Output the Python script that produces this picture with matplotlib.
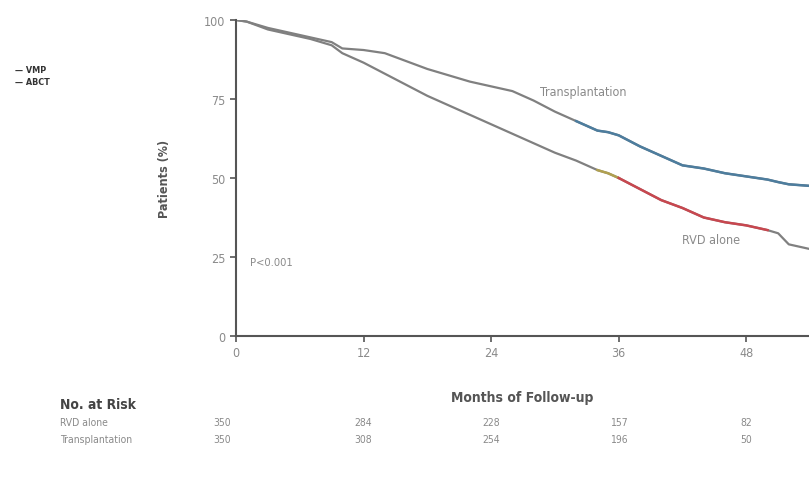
import numpy as np
import matplotlib.pyplot as plt

# Kaplan-Meier style survival curves (percent of patients) by month
months = np.array([0, 1, 3, 5, 7, 9, 10, 12, 14, 16, 18, 20, 22, 24, 26, 28,
                   30, 32, 34, 35, 36, 38, 40, 42, 44, 46, 48, 50, 51, 52, 54])
transplant = np.array([100, 99.5, 97.5, 96, 94.5, 93, 91, 90.5, 89.5, 87, 84.5,
                       82.5, 80.5, 79, 77.5, 74.5, 71, 68, 65, 64.5, 63.5, 60,
                       57, 54, 53, 51.5, 50.5, 49.5, 48.7, 48, 47.5])
rvd_alone = np.array([100, 99.5, 97, 95.5, 94, 92, 89.5, 86.5, 83, 79.5, 76,
                      73, 70, 67, 64, 61, 58, 55.5, 52.5, 51.5, 50, 46.5, 43,
                      40.5, 37.5, 36, 35, 33.5, 32.5, 29, 27.5])

# number at risk table
risk_months = [0, 12, 24, 36, 48]
risk_rvd = [350, 284, 228, 157, 82]
risk_tx = [350, 308, 254, 196, 50]
row_labels = ["RVD alone", "Transplantation"]

plt.rcParams['font.family'] = ['DejaVu Sans']
plt.rcParams['font.stretch'] = 'condensed'

fig = plt.figure(figsize=(8.09, 4.85), dpi=100)
ax = fig.add_axes([0.2917, 0.3052, 0.7083, 0.6515])

gray = '#808080'
# base curves in gray
ax.plot(months, transplant, color=gray, lw=1.6)
ax.plot(months, rvd_alone, color=gray, lw=1.6)

# later part of each curve highlighted
m_tx = months >= 32
ax.plot(months[m_tx], transplant[m_tx], color='#4d7d9e', lw=1.8)
m_olive = (months >= 34) & (months <= 36)
ax.plot(months[m_olive], rvd_alone[m_olive], color='#b0a050', lw=1.8)
m_red = (months >= 36) & (months <= 50)
ax.plot(months[m_red], rvd_alone[m_red], color='#c8474f', lw=1.8)

ax.set_xlim(0, 53.9)
ax.set_ylim(0, 100)
ax.set_xticks(risk_months)
ax.set_yticks([0, 25, 50, 75, 100])
ax.tick_params(direction='out', length=4, width=1.2, colors='#555555',
               labelcolor='#8a8a8a', labelsize=9)
for side in ['top', 'right']:
    ax.spines[side].set_visible(False)
for side in ['left', 'bottom']:
    ax.spines[side].set_color('#555555')
    ax.spines[side].set_linewidth(1.5)

ax.set_ylabel("Patients (%)", fontsize=9, color='#555555', fontweight='bold', labelpad=24)
ax.set_xlabel("Months of Follow-up", fontsize=10, color='#555555', fontweight='bold', labelpad=22)

ax.text(28.6, 77.5, "Transplantation", fontsize=9, color='#8a8a8a', va='center')
ax.text(42, 30.5, "RVD alone", fontsize=9, color='#8a8a8a', va='center')
ax.text(1.3, 23.5, "P<0.001", fontsize=8, color='#8a8a8a', va='center')

# small legend in the upper left
fig.text(0.018, 0.855, "\u2014 VMP", fontsize=6.5, color='#333333', fontweight='bold', va='center')
fig.text(0.018, 0.830, "\u2014 ABCT", fontsize=6.5, color='#333333', fontweight='bold', va='center')

# number at risk rows
fig.text(0.074, 0.165, "No. at Risk", fontsize=10, color='#444444', fontweight='bold', va='center')
row_y = [0.128, 0.093]
for label, counts, y in zip(row_labels, [risk_rvd, risk_tx], row_y):
    fig.text(0.074, y, label, fontsize=7.5, color='#8a8a8a', va='center')
    for m, c in zip(risk_months, counts):
        x_fig = fig.transFigure.inverted().transform(ax.transData.transform((m, 0)))[0]
        if m == 0:
            x_fig -= 0.017
        fig.text(x_fig, y, str(c), fontsize=7.5, color='#8a8a8a', va='center', ha='center')

fig.savefig("out.png", dpi=100)
